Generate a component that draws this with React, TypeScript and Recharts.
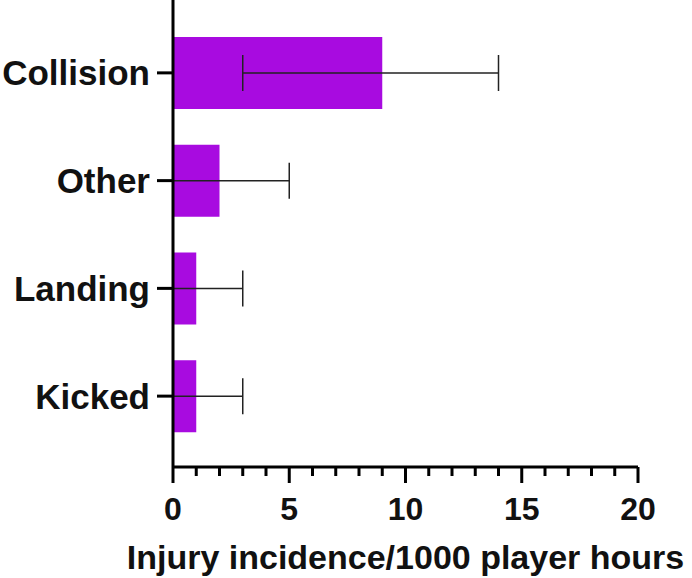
import React from 'react';
import { BarChart, Bar, XAxis, YAxis, ErrorBar } from 'recharts';

const categories = ['Collision', 'Other', 'Landing', 'Kicked'];
const incidence = [9, 2, 1, 1];
const ciLower = [3, 0, 0, 0];
const ciUpper = [14, 5, 3, 3];
const xTicks = [0, 1, 2, 3, 4, 5, 6, 7, 8, 9, 10, 11, 12, 13, 14, 15, 16, 17, 18, 19, 20];
const xTitle = 'Injury incidence/1000 player hours';

const data = categories.map((name, i) => ({
  name,
  value: incidence[i],
  err: [incidence[i] - ciLower[i], ciUpper[i] - incidence[i]],
}));

const FONT = '"Liberation Sans", Arial, sans-serif';
const MAJOR = 16;
const MINOR = 9;
const MARGIN = 14;

const XTick = (props: any) => {
  const { x, y, payload } = props;
  const axisY = y - MAJOR - MARGIN;
  const major = payload.value % 5 === 0;
  return (
    <g>
      <line x1={x} x2={x} y1={axisY} y2={axisY + (major ? MAJOR : MINOR)} stroke="#000" strokeWidth={3} />
      {major && (
        <text x={x} y={y} dy="0.71em" textAnchor="middle" fontFamily={FONT} fontWeight="bold" fontSize={32} fill="#111">
          {payload.value}
        </text>
      )}
    </g>
  );
};

export default function App() {
  return (
    <div style={{ position: 'absolute', left: 0, top: 0, width: 692, height: 578, background: '#fff' }}>
      <BarChart
        width={692}
        height={578}
        data={data}
        layout="vertical"
        margin={{ top: 0, right: 54, bottom: 0, left: 0 }}
      >
        <XAxis
          type="number"
          domain={[0, 20]}
          ticks={xTicks}
          interval={0}
          tickSize={MAJOR}
          tickMargin={MARGIN}
          tickLine={false}
          tick={<XTick />}
          axisLine={{ stroke: '#000', strokeWidth: 3 }}
          height={111}
          label={{
            value: xTitle,
            position: 'insideBottom',
            offset: 9,
            style: { fontFamily: FONT, fontWeight: 'bold', fontSize: 34, fill: '#111' },
          }}
        />
        <YAxis
          type="category"
          dataKey="name"
          width={173}
          padding={{ top: 19, bottom: 17 }}
          tickSize={16}
          tickMargin={7}
          tickLine={{ stroke: '#000', strokeWidth: 3 }}
          axisLine={{ stroke: '#000', strokeWidth: 3 }}
          tick={{ fontFamily: FONT, fontWeight: 'bold', fontSize: 35, fill: '#111' }}
        />
        <Bar dataKey="value" fill="#A80BE0" barSize={72} isAnimationActive={false}>
          <ErrorBar dataKey="err" direction="x" width={18} stroke="#222" strokeWidth={1.5} />
        </Bar>
      </BarChart>
    </div>
  );
}
